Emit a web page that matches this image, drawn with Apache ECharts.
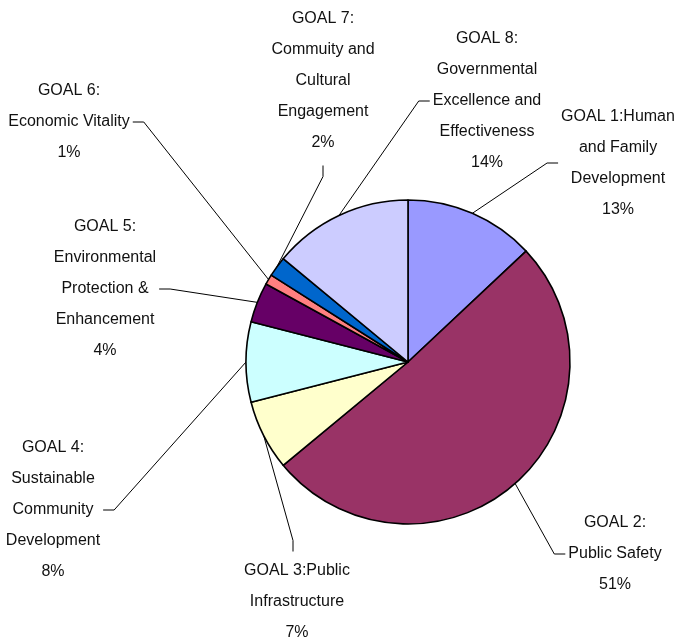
<!DOCTYPE html>
<html>
<head>
<meta charset="utf-8">
<script src="https://cdn.jsdelivr.net/npm/echarts@6/dist/echarts.min.js"></script>
<style>
  html, body { margin: 0; padding: 0; background: #ffffff; }
  #chart { width: 681px; height: 641px; }
</style>
</head>
<body>
<div id="chart"></div>
<script>
// Goal names (line breaks as shown in the labels)
const categories = [
  'GOAL 1:Human\nand Family\nDevelopment',
  'GOAL 2:\nPublic Safety',
  'GOAL 3:Public\nInfrastructure',
  'GOAL 4:\nSustainable\nCommunity\nDevelopment',
  'GOAL 5:\nEnvironmental\nProtection &\nEnhancement',
  'GOAL 6:\nEconomic Vitality',
  'GOAL 7:\nCommuity and\nCultural\nEngagement',
  'GOAL 8:\nGovernmental\nExcellence and\nEffectiveness'
];

// Share of the total, in percent
const shares = [13, 51, 7, 8, 4, 1, 2, 14];

const sliceColors = [
  '#9999FF', '#993366', '#FFFFCC', '#CCFFFF',
  '#660066', '#FF8080', '#0066CC', '#CCCCFF'
];

// Where each label block is centred, and which side of it the leader line meets
const labelPlacement = [
  { x: 618, y: 163, side: 'left' },
  { x: 615, y: 554, side: 'left' },
  { x: 297, y: 602, side: 'top' },
  { x: 53,  y: 510, side: 'right' },
  { x: 105, y: 289, side: 'right' },
  { x: 69,  y: 122, side: 'right' },
  { x: 323, y: 81,  side: 'bottom' },
  { x: 487, y: 101, side: 'left' }
];

const STUB = 11;

const chart = echarts.init(document.getElementById('chart'), null, { renderer: 'canvas' });

chart.setOption({
  animation: false,
  backgroundColor: '#ffffff',
  series: [{
    type: 'pie',
    center: [408, 362],
    radius: 162,
    startAngle: 90,
    clockwise: true,
    avoidLabelOverlap: false,
    silent: true,
    emphasis: { disabled: true },
    data: categories.map((name, i) => ({
      name: name,
      value: shares[i],
      itemStyle: { color: sliceColors[i] }
    })),
    itemStyle: { borderColor: '#000000', borderWidth: 1.6 },
    label: {
      show: true,
      position: 'outside',
      formatter: '{b}\n{d}%',
      fontFamily: '"Liberation Sans", Arial, sans-serif',
      fontSize: 16,
      lineHeight: 31,
      color: '#111111'
    },
    labelLine: {
      show: true,
      length: 10,
      length2: 10,
      smooth: false,
      lineStyle: { color: '#000000', width: 1 }
    },
    labelLayout: function (params) {
      const p = labelPlacement[params.dataIndex];
      const w = params.labelRect.width;
      const h = params.labelRect.height;
      let end, bend;
      if (p.side === 'left') {
        end = [p.x - w / 2 - 3, p.y];
        bend = [end[0] - STUB, end[1]];
      } else if (p.side === 'right') {
        end = [p.x + w / 2 + 3, p.y];
        bend = [end[0] + STUB, end[1]];
      } else if (p.side === 'top') {
        end = [p.x - 4, p.y - h / 2 - 4];
        bend = [end[0], end[1] - STUB];
      } else {
        end = [p.x, p.y + h / 2 + 7];
        bend = [end[0], end[1] + STUB];
      }
      const out = { x: p.x, y: p.y, align: 'center', verticalAlign: 'middle' };
      if (params.labelLinePoints && params.labelLinePoints.length) {
        out.labelLinePoints = [params.labelLinePoints[0], bend, end];
      }
      return out;
    }
  }]
});
</script>
</body>
</html>
